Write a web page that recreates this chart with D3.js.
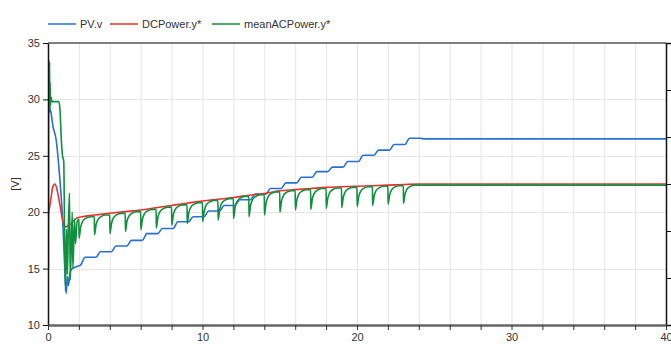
<!DOCTYPE html>
<html>
<head>
<meta charset="utf-8">
<script src="https://cdn.jsdelivr.net/npm/d3@7"></script>
<style>
  body { margin: 0; background: #fff; }
  svg { display: block; font-family: "Liberation Sans", Arial, sans-serif; }
  .axis text { font-size: 11px; fill: #333; }
  .grid line { stroke: #e6e6e6; stroke-width: 1; }
</style>
</head>
<body>
<div id="chart"></div>
<script>
// series names + colours
var seriesNames = ["PV.v", "DCPower.y*", "meanACPower.y*"];
var seriesColors = ["#2a6fd2", "#e8322f", "#10903f"];

// PV.v  [time, value]
var pvData = [
  [0, 32.8], [0.03, 32.5], [0.08, 29.5], [0.2, 28.8], [0.31, 27.7], [0.53, 26.4],
  [0.74, 23.4], [0.96, 19.0], [1.07, 15.5], [1.18, 12.8], [1.26, 14.3], [1.33, 13.5],
  [1.42, 14.6], [1.5, 14.9], [1.7, 15.1], [1.9, 15.2], [2.1, 15.3], [2.4, 16.0],
  [3.1, 16.0], [3.4, 16.5], [4.1, 16.5], [4.4, 17.0], [5.1, 17.0], [5.4, 17.5],
  [6.1, 17.5], [6.4, 18.1], [7.1, 18.1], [7.4, 18.55], [8.1, 18.55], [8.4, 19.15],
  [9.1, 19.15], [9.4, 19.6], [10.1, 19.6], [10.4, 20.1], [11.1, 20.1], [11.4, 20.6],
  [12.1, 20.6], [12.4, 21.1], [13.1, 21.1], [13.4, 21.6], [14.1, 21.6], [14.4, 22.1],
  [15.1, 22.1], [15.4, 22.6], [16.1, 22.6], [16.4, 23.1], [17.1, 23.1], [17.4, 23.6],
  [18.1, 23.6], [18.4, 24.0], [19.1, 24.0], [19.4, 24.5], [20.1, 24.5], [20.4, 25.05],
  [21.1, 25.05], [21.4, 25.5], [22.1, 25.5], [22.4, 26.0], [23.1, 26.0], [23.4, 26.55],
  [24.1, 26.55], [24.4, 26.5], [40, 26.5]
];

// DCPower.y*
var dcData = [
  [0, 18.4], [0.03, 19.8], [0.1, 20.4], [0.2, 21.3], [0.3, 22.2], [0.45, 22.5],
  [0.55, 22.2], [0.7, 21.2], [0.85, 20.0], [1.0, 19.0], [1.1, 18.7], [1.3, 18.8],
  [1.5, 19.0], [1.7, 19.3], [1.9, 19.5], [2.2, 19.6], [3, 19.75], [4, 19.9],
  [5, 20.05], [6, 20.2], [7, 20.4], [8, 20.6], [9, 20.8], [10, 21.0], [11, 21.15],
  [12, 21.3], [13, 21.5], [14, 21.65], [15, 21.9], [16, 22.0], [17, 22.1], [18, 22.2],
  [19, 22.25], [20, 22.3], [21, 22.35], [22, 22.4], [23, 22.45], [24, 22.5], [40, 22.5]
];

// meanACPower.y*
var acData = [
  [0, 14.8], [0.03, 15.0], [0.04, 31.5], [0.06, 33.5], [0.08, 28.8], [0.1, 33.3],
  [0.12, 29.0], [0.14, 31.5], [0.16, 29.5], [0.2, 30.2], [0.26, 29.8], [0.7, 29.8],
  [0.78, 29.0], [0.86, 26.5], [0.94, 25.0], [1.02, 24.5], [1.08, 17.0], [1.13, 13.0],
  [1.2, 18.5], [1.26, 14.5], [1.32, 19.0], [1.39, 21.7], [1.44, 14.0], [1.57, 20.0],
  [1.61, 15.0], [1.72, 19.4], [1.78, 17.2], [1.89, 19.2], [1.95, 19.3],
  [2, 19.4], [2.01, 17.7], [2.11, 18.65], [2.22, 19.13], [2.43, 19.45], [2.75, 19.6],
  [3, 19.6], [3.01, 18.0], [3.11, 18.88], [3.22, 19.31], [3.43, 19.61], [3.75, 19.75],
  [4, 19.75], [4.01, 18.1], [4.11, 19.0], [4.22, 19.45], [4.43, 19.76], [4.75, 19.9],
  [5, 19.9], [5.01, 18.3], [5.11, 19.18], [5.22, 19.61], [5.43, 19.91], [5.75, 20.05],
  [6, 20.05], [6.01, 18.45], [6.11, 19.35], [6.22, 19.8], [6.43, 20.11], [6.75, 20.25],
  [7, 20.25], [7.01, 18.6], [7.11, 19.53], [7.22, 19.99], [7.43, 20.3], [7.75, 20.45],
  [8, 20.45], [8.01, 18.85], [8.11, 19.75], [8.22, 20.2], [8.43, 20.51], [8.75, 20.65],
  [9, 20.65], [9.01, 19.0], [9.11, 19.93], [9.22, 20.39], [9.43, 20.7], [9.75, 20.85],
  [10, 20.85], [10.01, 19.15], [10.11, 20.1], [10.22, 20.58], [10.43, 20.9], [10.75, 21.05],
  [11, 21.05], [11.01, 19.3], [11.11, 20.25], [11.22, 20.73], [11.43, 21.05], [11.75, 21.2],
  [12, 21.2], [12.01, 19.45], [12.11, 20.43], [12.22, 20.91], [12.43, 21.24], [12.75, 21.4],
  [13, 21.4], [13.01, 19.6], [13.11, 20.58], [13.22, 21.06], [13.43, 21.39], [13.75, 21.55],
  [14, 21.55], [14.01, 19.75], [14.11, 20.78], [14.22, 21.29], [14.43, 21.64], [14.75, 21.8],
  [15, 21.8], [15.01, 20.0], [15.11, 20.95], [15.22, 21.43], [15.43, 21.75], [15.75, 21.9],
  [16, 21.9], [16.01, 20.2], [16.11, 21.1], [16.22, 21.55], [16.43, 21.86], [16.75, 22.0],
  [17, 22.0], [17.01, 20.25], [17.11, 21.18], [17.22, 21.64], [17.43, 21.95], [17.75, 22.1],
  [18, 22.1], [18.01, 20.35], [18.11, 21.25], [18.22, 21.7], [18.43, 22.01], [18.75, 22.15],
  [19, 22.15], [19.01, 20.4], [19.11, 21.3], [19.22, 21.75], [19.43, 22.06], [19.75, 22.2],
  [20, 22.2], [20.01, 20.5], [20.11, 21.38], [20.22, 21.81], [20.43, 22.11], [20.75, 22.25],
  [21, 22.25], [21.01, 20.6], [21.11, 21.45], [21.22, 21.88], [21.43, 22.16], [21.75, 22.3],
  [22, 22.3], [22.01, 20.7], [22.11, 21.53], [22.22, 21.94], [22.43, 22.22], [22.75, 22.35],
  [23, 22.35], [23.01, 20.8], [23.11, 21.6], [23.22, 22.0], [23.43, 22.27], [23.75, 22.4],
  [40, 22.4]
];

// axis ticks
var xTicks = d3.range(0, 41, 2);
var xLabels = [0, 10, 20, 30, 40];
var yTicks = [10, 15, 20, 25, 30, 35];

var width = 671, height = 349;
var margin = {top: 43, right: 5, bottom: 24, left: 48};

var svg = d3.select("#chart").append("svg")
    .attr("width", width).attr("height", height);

var x = d3.scaleLinear().domain([0, 40]).range([margin.left, width - margin.right]);
var y = d3.scaleLinear().domain([10, 35]).range([height - margin.bottom, margin.top]);

// grid
var grid = svg.append("g").attr("class", "grid");
grid.selectAll("line.v").data(xTicks.filter(function (d) { return d > 0 && d < 40; }))
    .enter().append("line")
    .attr("x1", function (d) { return x(d) + 0.5; }).attr("x2", function (d) { return x(d) + 0.5; })
    .attr("y1", y(35)).attr("y2", y(10));
grid.selectAll("line.h").data(yTicks.filter(function (d) { return d > 10 && d < 35; }))
    .enter().append("line")
    .attr("x1", x(0)).attr("x2", x(40))
    .attr("y1", function (d) { return Math.round(y(d)) + 0.5; })
    .attr("y2", function (d) { return Math.round(y(d)) + 0.5; });

// lines
svg.append("clipPath").attr("id", "plot")
  .append("rect").attr("x", x(0)).attr("y", y(35))
  .attr("width", x(40) - x(0)).attr("height", y(10) - y(35));

var line = d3.line()
    .x(function (d) { return x(d[0]); })
    .y(function (d) { return y(d[1]); })
    .curve(d3.curveMonotoneX);

[pvData, dcData, acData].forEach(function (data, i) {
    svg.append("path")
        .datum(data)
        .attr("clip-path", "url(#plot)")
        .attr("fill", "none")
        .attr("stroke", seriesColors[i])
        .attr("stroke-width", 1.6)
        .attr("stroke-linejoin", "round")
        .attr("d", line);
});

// frame: top line + right axis
svg.append("line")
    .attr("x1", x(0)).attr("x2", x(40))
    .attr("y1", y(35)).attr("y2", y(35))
    .attr("stroke", "#555").attr("stroke-width", 1.5);

var yRight = d3.scaleLinear().domain([0, 6]).range([y(10), y(35)]);
var rightAxis = svg.append("g").attr("class", "axis")
    .attr("transform", "translate(" + x(40) + ",0)")
    .call(d3.axisRight(yRight).tickValues(d3.range(0, 7)).tickSize(5).tickFormat(""));
rightAxis.select(".domain").attr("stroke", "#111").attr("stroke-width", 1.5);
rightAxis.selectAll(".tick line").attr("stroke", "#111");

// left axis
var leftAxis = svg.append("g").attr("class", "axis")
    .attr("transform", "translate(" + x(0) + ",0)")
    .call(d3.axisLeft(y).tickValues(yTicks).tickSize(5).tickPadding(3).tickSizeOuter(0));
leftAxis.select(".domain").attr("stroke", "#111").attr("stroke-width", 1.5);
leftAxis.selectAll(".tick line").attr("stroke", "#111");

// bottom axis
var bottomAxis = svg.append("g").attr("class", "axis")
    .attr("transform", "translate(0," + y(10) + ")")
    .call(d3.axisBottom(x).tickValues(xTicks).tickSize(5).tickPadding(3).tickSizeOuter(0)
        .tickFormat(function (d) { return xLabels.indexOf(d) >= 0 ? d : ""; }));
bottomAxis.select(".domain").attr("stroke", "#666").attr("stroke-width", 2.5);
bottomAxis.selectAll(".tick line").attr("stroke", "#333");

// y label
svg.append("text")
    .attr("transform", "translate(15," + ((y(10) + y(35)) / 2) + ") rotate(-90)")
    .attr("text-anchor", "middle")
    .attr("dy", "0.35em")
    .style("font-size", "11px").style("fill", "#333")
    .text("[V]");

// legend
var legendX = [48, 110, 212];
var legend = svg.selectAll("g.legend").data(seriesNames)
    .enter().append("g").attr("class", "legend")
    .attr("transform", function (d, i) { return "translate(" + legendX[i] + ",24)"; });
legend.append("line")
    .attr("x1", 0).attr("x2", 28).attr("y1", 0).attr("y2", 0)
    .attr("stroke", function (d, i) { return seriesColors[i]; })
    .attr("stroke-width", 1.5);
legend.append("text")
    .attr("x", 32).attr("y", 0).attr("dy", "0.35em")
    .style("font-size", "11px").style("fill", "#333")
    .text(function (d) { return d; });
</script>
</body>
</html>
